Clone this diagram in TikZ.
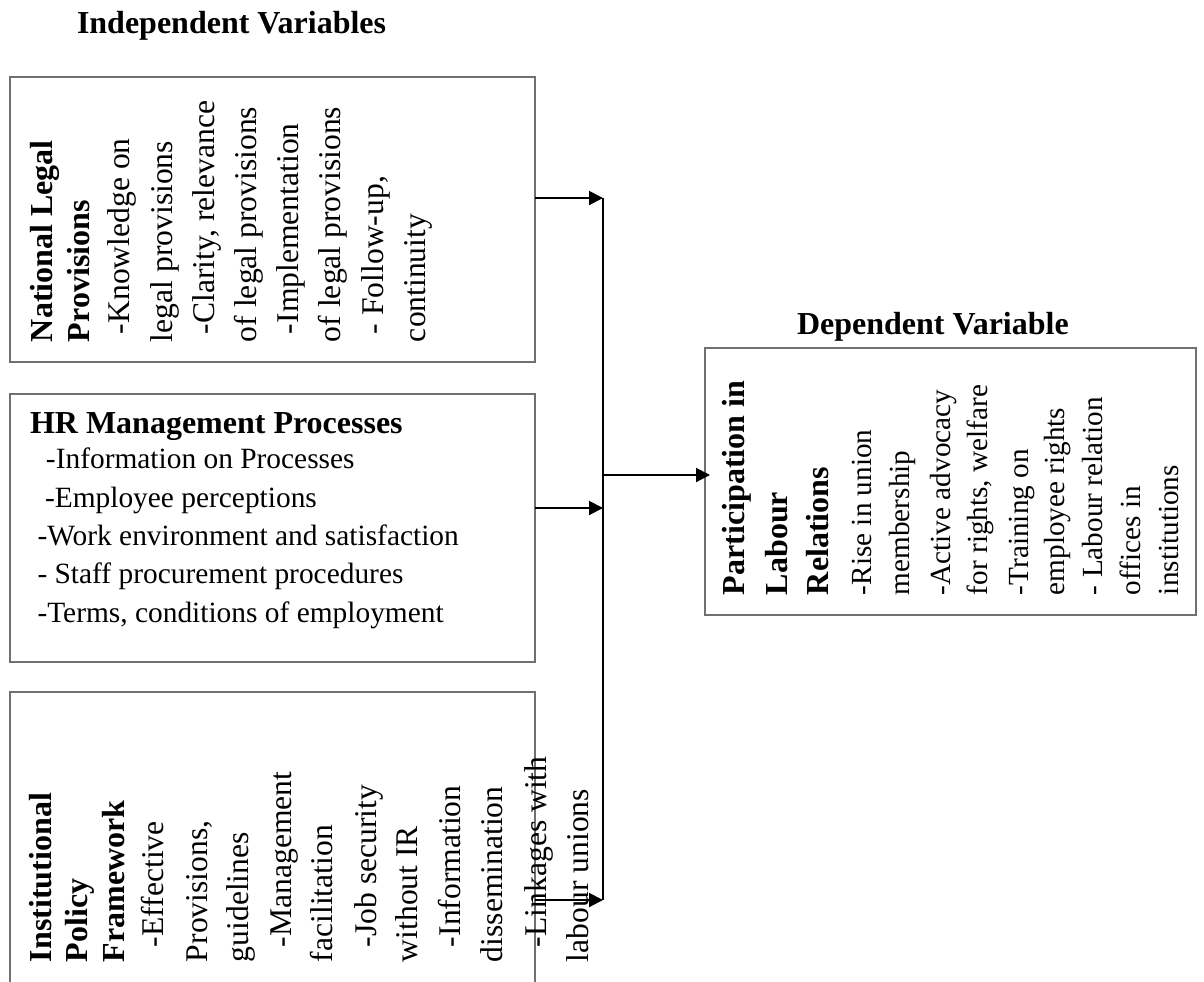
\documentclass[tikz,border=0pt]{standalone}
\usepackage{fontspec}
\setmainfont{Liberation Serif}
\usetikzlibrary{arrows.meta}
\definecolor{boxgray}{RGB}{112,112,112}
\tikzset{
 vbox/.style={draw=boxgray, line width=1.2pt, anchor=north west, inner sep=0pt, outer sep=0pt},
 rt/.style={rotate=90, anchor=base west, inner sep=0pt, outer sep=0pt, font=\fontsize{15.8}{18}\selectfont},
 rts/.style={rotate=90, anchor=base west, inner sep=0pt, outer sep=0pt, font=\fontsize{14.6}{17}\selectfont},
 rtb/.style={rotate=90, anchor=base west, inner sep=0pt, outer sep=0pt, font=\fontsize{16}{19}\selectfont\bfseries},
 ht/.style={anchor=base west, inner sep=0pt, outer sep=0pt, font=\fontsize{14.7}{17}\selectfont},
 htb/.style={anchor=base west, inner sep=0pt, outer sep=0pt, font=\fontsize{16}{19}\selectfont\bfseries},
 conn/.style={line width=1pt, draw=black},
 arr/.style={line width=1pt, draw=black, -{Triangle[length=7pt,width=7pt]}},
}
\begin{document}
\begin{tikzpicture}[x=0.5pt,y=-0.5pt]
\useasboundingbox (0,0) rectangle (1204,981);
\fill[white] (0,0) rectangle (1204,981);
\clip (0,0) rectangle (1204,981);

% titles
\node[htb] (tind) at (77,33) {Independent Variables};
\node[htb] (tdep) at (797,334) {Dependent Variable};

% boxes
\node[vbox, minimum width=262.5pt, minimum height=142.5pt] (box1) at (10,77) {};
\node[vbox, minimum width=262.5pt, minimum height=134pt] (box2) at (10,394) {};
\node[vbox, minimum width=262.5pt, minimum height=160pt] (box3) at (10,692) {};
\node[vbox, minimum width=245.5pt, minimum height=133.5pt] (box4) at (705,348) {};

% box 1 text
\node[rtb] (a1) at (52,342) {National Legal};
\node[rtb] (a2) at (89,342) {Provisions};
\node[rt] (a3) at (129,334) {-Knowledge on};
\node[rt] (a4) at (172,342) {legal provisions};
\node[rt] (a5) at (214,334) {-Clarity, relevance};
\node[rt] (a6) at (256,342) {of legal provisions};
\node[rt] (a7) at (298,334) {-Implementation};
\node[rt] (a8) at (340,342) {of legal provisions};
\node[rt] (a9) at (383,334) {- Follow-up,};
\node[rt] (a10) at (425,342) {continuity};

% box 2 text
\node[htb] (b1) at (30,433) {HR Management Processes};
\node[ht] (b2) at (46,468) {-Information on Processes};
\node[ht] (b3) at (45,507) {-Employee perceptions};
\node[ht] (b4) at (37.5,545) {-Work environment and satisfaction};
\node[ht] (b5) at (37.5,583) {- Staff procurement procedures};
\node[ht] (b6) at (37.5,622) {-Terms, conditions of employment};

% box 3 text
\node[rtb] (c1) at (51,962) {Institutional};
\node[rtb] (c2) at (87,962) {Policy};
\node[rtb] (c3) at (124,962) {Framework};
\node[rt] (c4) at (163,947) {-Effective};
\node[rt] (c5) at (207,962) {Provisions,};
\node[rt] (c6) at (248,962) {guidelines};
\node[rt] (c7) at (291,947) {-Management};
\node[rt] (c8) at (332,962) {facilitation};
\node[rt] (c9) at (376,947) {-Job security};
\node[rt] (c10) at (417,962) {without IR};
\node[rt] (c11) at (460,947) {-Information};
\node[rt] (c12) at (502,962) {dissemination};
\node[rt] (c13) at (546,947) {-Linkages with};
\node[rt] (c14) at (588,962) {labour unions};

% box 4 text
\node[rtb] (d1) at (744,595) {Participation in};
\node[rtb] (d2) at (787,595) {Labour};
\node[rtb] (d3) at (828,595) {Relations};
\node[rts] (d4) at (871,595) {-Rise in union};
\node[rts] (d5) at (909,595) {membership};
\node[rts] (d6) at (950,595) {-Active advocacy};
\node[rts] (d7) at (987,595) {for rights, welfare};
\node[rts] (d8) at (1028,595) {-Training on};
\node[rts] (d9) at (1064,595) {employee rights};
\node[rts] (d10) at (1102,595) {- Labour relation};
\node[rts] (d11) at (1140,595) {offices in};
\node[rts] (d12) at (1178,595) {institutions};

% connectors
\coordinate (j1) at (603,198);
\coordinate (j2) at (603,508);
\coordinate (j3) at (603,900);
\coordinate (jm) at (603,475);
\draw[conn] (j1) -- (j3);
\draw[arr] (box1.east |- j1) -- (j1);
\draw[arr] (box2.east |- j2) -- (j2);
\draw[arr] (box3.east |- j3) -- (j3);
\draw[arr] (jm) -- ([xshift=2.5pt]box4.west |- jm);
\end{tikzpicture}
\end{document}
